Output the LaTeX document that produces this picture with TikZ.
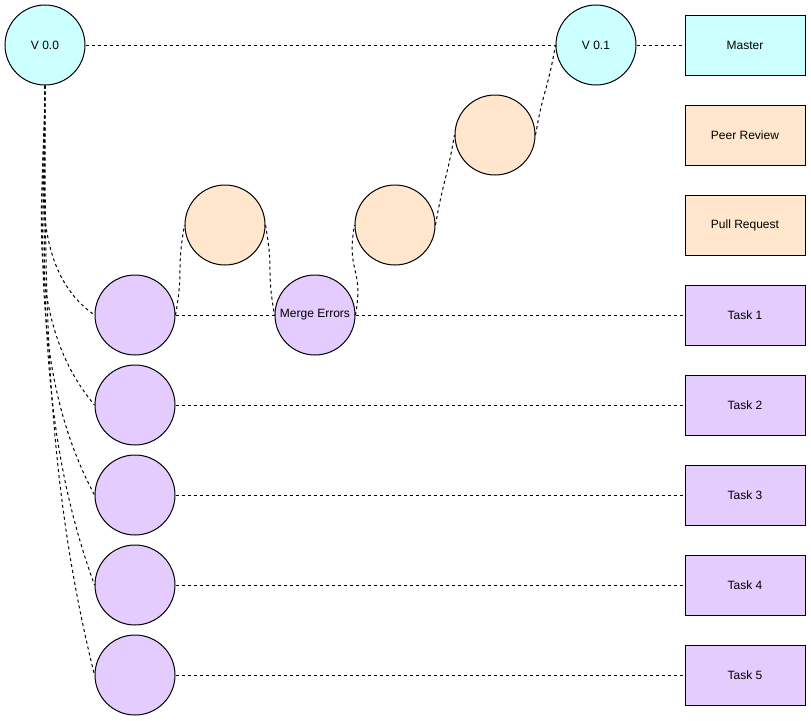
\documentclass[tikz,border=0pt]{standalone}
\usepackage{fontspec}
\setmainfont{Liberation Sans}
\usepackage{xcolor}
\usepackage{tikz}
\definecolor{mastercol}{HTML}{CCFFFF}
\definecolor{reviewcol}{HTML}{FFE6CC}
\definecolor{taskcol}{HTML}{E5CCFF}

\begin{document}
\begin{tikzpicture}[x=0.75pt,y=0.75pt,
		commit/.style={circle, draw, line width=0.75pt, minimum size=60pt, inner sep=0pt, font=\fontsize{9}{11}\selectfont},
		lane/.style={draw, line width=0.75pt, minimum width=90pt, minimum height=45pt, inner sep=0pt, font=\fontsize{9}{11}\selectfont},
		link/.style={line width=0.75pt, dash pattern=on 2.25pt off 2.25pt}]
	\useasboundingbox (0,0) rectangle (811,-721);
	% branches
	\node[commit, fill=mastercol] (v00) at (45,-45) {V 0.0};
	\node[commit, fill=mastercol] (v01) at (596,-45) {V 0.1};
	\node[lane, fill=mastercol] (master) at (745,-45) {Master};
	\node[lane, fill=reviewcol] (review) at (745,-135) {Peer Review};
	\node[lane, fill=reviewcol] (pull) at (745,-225) {Pull Request};
	\foreach \i/\y/\a in {1/315/145,2/405/130,3/495/118,4/585/110,5/675/104}{
		\node[commit, fill=taskcol] (c\i) at (135,-\y) {};
		\node[lane, fill=taskcol] (task\i) at (745,-\y) {Task \i};
		\draw[link] (v00.south) to[out=-90, in=\a, looseness=0.9] (c\i.west);
	}
	% review path
	\node[commit, fill=reviewcol] (pr1) at (225,-225) {};
	\node[commit, fill=taskcol] (merge) at (315,-315) {Merge Errors};
	\node[commit, fill=reviewcol] (pr2) at (395,-225) {};
	\node[commit, fill=reviewcol] (rev) at (495,-135) {};
	\draw[link] (v00) -- (v01);
	\draw[link] (v01) -- (master);
	\draw[link] (c1) -- (merge);
	\draw[link] (merge) -- (task1);
	\foreach \i in {2,...,5}
		\draw[link] (c\i) -- (task\i);
	\draw[link] (c1.east) to[out=80, in=-100, looseness=1.4] (pr1.west);
	\draw[link] (pr1.east) to[out=-80, in=100, looseness=1.4] (merge.west);
	\draw[link] (merge.east) to[out=80, in=-100, looseness=1.4] (pr2.west);
	\draw[link] (pr2.east) to[out=80, in=-100, looseness=1.4] (rev.west);
	\draw[link] (rev.east) to[out=80, in=-100, looseness=1.4] (v01.west);
\end{tikzpicture}
\end{document}
